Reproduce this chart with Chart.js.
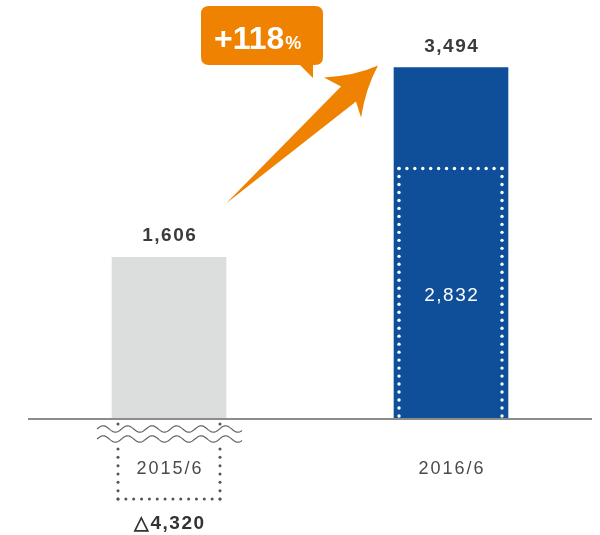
<!DOCTYPE html>
<html>
<head>
<meta charset="utf-8">
<script src="https://cdn.jsdelivr.net/npm/chart.js@4"></script>
<style>
  html, body { margin: 0; padding: 0; background: #fff; }
  #wrap { width: 600px; height: 535px; }
</style>
</head>
<body>
<div id="wrap"><canvas id="bar-chart" width="600" height="535"></canvas></div>
<script>
var labels = ["2015/6", "2016/6"];
var values = [1606, 3494];
var valueText = ["1,606", "3,494"];
var innerText = [null, "2,832"];
var innerLevel = [null, 2490]; // dotted box top, as drawn in the picture
var belowText = ["\u25B34,320", null];
var growthText = "+118";

var FONT = "'Liberation Sans', Arial, Helvetica, sans-serif";

function dottedLine(ctx, x1, y1, x2, y2, gap, r, skipFrom, skipTo) {
  var len = Math.hypot(x2 - x1, y2 - y1);
  var n = Math.max(1, Math.round(len / gap));
  for (var i = 0; i <= n; i++) {
    var t = i / n;
    var px = x1 + (x2 - x1) * t, py = y1 + (y2 - y1) * t;
    if (skipFrom != null && py > skipFrom && py < skipTo) continue;
    ctx.beginPath();
    ctx.arc(px, py, r, 0, Math.PI * 2);
    ctx.fill();
  }
}

function wave(ctx, x1, x2, yc, amp, period) {
  ctx.beginPath();
  for (var x = x1; x <= x2; x += 1) {
    var y = yc - amp * Math.sin(((x - x1) / period) * Math.PI * 2);
    if (x === x1) ctx.moveTo(x, y); else ctx.lineTo(x, y);
  }
  ctx.stroke();
}

function spaced(ctx, text, x, y, sp) {
  ctx.letterSpacing = sp + "px";
  ctx.fillText(text, x + sp / 2, y);
  ctx.letterSpacing = "0px";
}

var decor = {
  id: "decor",
  afterDatasetsDraw: function (chart) {
    var ctx = chart.ctx;
    var y = chart.scales.y;
    var area = chart.chartArea;
    var bars = chart.getDatasetMeta(0).data;
    var y0 = y.getPixelForValue(0);

    ctx.save();

    // baseline
    ctx.strokeStyle = "#8c8c8c";
    ctx.lineWidth = 2;
    ctx.beginPath();
    ctx.moveTo(area.left, y0);
    ctx.lineTo(area.right, y0);
    ctx.stroke();

    ctx.textAlign = "center";
    ctx.textBaseline = "alphabetic";

    bars.forEach(function (bar, i) {
      var half = bar.width / 2;

      // value on top
      ctx.fillStyle = "#3b3b3b";
      ctx.font = "bold 19px " + FONT;
      spaced(ctx, valueText[i], bar.x, bar.y - 16, 1.5);

      // dotted box inside the bar
      if (innerLevel[i] != null) {
        var top = y.getPixelForValue(innerLevel[i]);
        var l = bar.x - half + 5, r = bar.x + half - 6;
        ctx.fillStyle = "#ffffff";
        dottedLine(ctx, l, top, r, top, 8, 1.7);
        dottedLine(ctx, l, top, l, y0 - 3, 8, 1.7);
        dottedLine(ctx, r, top, r, y0 - 3, 8, 1.7);
        ctx.font = "19px " + FONT;
        spaced(ctx, innerText[i], bar.x, 301, 1.5);
      }

      // negative part below the axis
      if (belowText[i] != null) {
        var bl = bar.x - half + 6, br = bar.x + half - 6, bb = 499;
        ctx.fillStyle = "#555555";
        dottedLine(ctx, bl, y0 + 5, bl, bb, 8, 1.5, 426, 444);
        dottedLine(ctx, br, y0 + 5, br, bb, 8, 1.5, 426, 444);
        dottedLine(ctx, bl, bb, br, bb, 8, 1.5);
        // break marks
        ctx.strokeStyle = "#666666";
        ctx.lineWidth = 1.2;
        wave(ctx, bar.x - half - 15, bar.x + half + 16, 429, 3.2, 24.5);
        wave(ctx, bar.x - half - 15, bar.x + half + 16, 439, 3.2, 24.5);
        ctx.fillStyle = "#333333";
        ctx.font = "bold 19px " + FONT;
        spaced(ctx, belowText[i], bar.x, 529, 1.5);
      }

      // category label
      ctx.fillStyle = "#4a4a4a";
      ctx.font = "18px " + FONT;
      spaced(ctx, labels[i], bar.x, 474, 2);
    });

    // growth arrow
    var tail = { x: bars[0].x + bars[0].width / 2, y: bars[0].y - 54 };
    var tip = { x: bars[1].x - 73, y: bars[1].y - 2 };
    ctx.fillStyle = "#ef8200";
    ctx.beginPath();
    ctx.moveTo(tail.x, tail.y);
    ctx.lineTo(tip.x - 37, tip.y + 21);
    ctx.lineTo(tip.x - 54, tip.y + 12);
    ctx.quadraticCurveTo(tip.x - 22, tip.y + 10, tip.x, tip.y);
    ctx.quadraticCurveTo(tip.x - 12, tip.y + 22, tip.x - 17, tip.y + 52);
    ctx.lineTo(tip.x - 22, tip.y + 36);
    ctx.closePath();
    ctx.fill();

    // callout bubble
    var bx = 201, by = 6, bw = 122, bh = 59, rad = 8;
    ctx.beginPath();
    ctx.moveTo(bx + rad, by);
    ctx.lineTo(bx + bw - rad, by);
    ctx.quadraticCurveTo(bx + bw, by, bx + bw, by + rad);
    ctx.lineTo(bx + bw, by + bh - rad);
    ctx.quadraticCurveTo(bx + bw, by + bh, bx + bw - rad, by + bh);
    ctx.lineTo(bx + 112, by + bh);
    ctx.lineTo(bx + 112, by + bh + 13);
    ctx.lineTo(bx + 99, by + bh);
    ctx.lineTo(bx + rad, by + bh);
    ctx.quadraticCurveTo(bx, by + bh, bx, by + bh - rad);
    ctx.lineTo(bx, by + rad);
    ctx.quadraticCurveTo(bx, by, bx + rad, by);
    ctx.closePath();
    ctx.fill();

    ctx.fillStyle = "#ffffff";
    ctx.textAlign = "left";
    ctx.font = "bold 32px " + FONT;
    ctx.fillText(growthText, 214, 49);
    var w = ctx.measureText(growthText).width;
    ctx.font = "bold 18px " + FONT;
    ctx.fillText("%", 214 + w + 1, 49);

    ctx.restore();
  },
};

var config = {
  type: "bar",
  data: {
    labels: labels,
    datasets: [
      {
        data: values,
        backgroundColor: ["#dcdddd", "#0f4e98"],
        borderWidth: 0,
        barThickness: 114,
      },
    ],
  },
  options: {
    responsive: false,
    animation: false,
    layout: { padding: { left: 28, right: 8, top: 0, bottom: 116 } },
    plugins: { legend: { display: false }, tooltip: { enabled: false } },
    scales: {
      x: { display: false },
      y: { display: false, min: 0, max: 4165 },
    },
  },
  plugins: [decor],
};

var ctxOne = document.getElementById("bar-chart").getContext("2d");
new Chart(ctxOne, config);
</script>
</body>
</html>
